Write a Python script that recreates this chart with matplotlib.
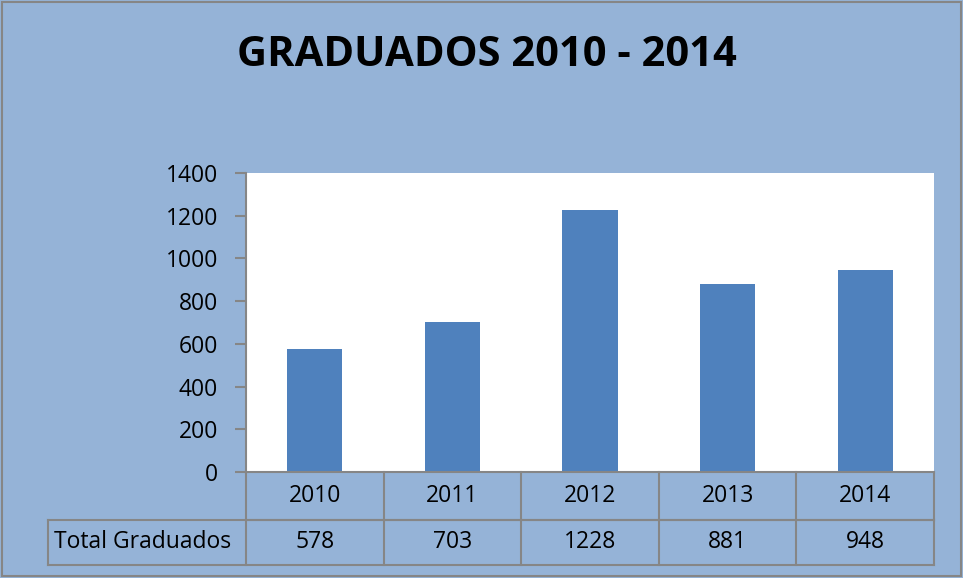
import matplotlib
matplotlib.use("Agg")
import matplotlib.pyplot as plt
from matplotlib.patches import Rectangle
import matplotlib.transforms as mtransforms

years = ["2010", "2011", "2012", "2013", "2014"]
values = [578, 703, 1228, 881, 948]
series_name = "Total Graduados"
yticks = [0, 200, 400, 600, 800, 1000, 1200, 1400]

BG = "#95B3D7"
BAR = "#4F81BD"
GRID = "#868686"
FONT = "Open Sans"
FS = 16.5

fig = plt.figure(figsize=(9.63, 5.78), dpi=100)
fig.patch.set_facecolor(BG)
fig.patches.append(Rectangle((0.002, 0.003), 0.996, 0.994, transform=fig.transFigure,
                             fill=False, edgecolor=GRID, linewidth=1.5))

ax = fig.add_axes([246/963, (578-472)/578, (934-246)/963, (472-173)/578])
ax.set_facecolor("white")
x = list(range(len(years)))
ax.bar(x, values, width=0.4, color=BAR, zorder=2)
ax.set_xlim(-0.5, len(years) - 0.5)
ax.set_ylim(0, 1400)
ax.set_yticks(yticks)
ax.set_yticklabels([str(t) for t in yticks], fontsize=FS, family=FONT)
ax.set_xticks([])
for s in ["top", "right"]:
    ax.spines[s].set_visible(False)
for s in ["left", "bottom"]:
    ax.spines[s].set_color(GRID)
    ax.spines[s].set_linewidth(1.5)
ax.tick_params(axis="y", length=8, width=1.5, color=GRID, pad=12)

# data table
tr = mtransforms.blended_transform_factory(ax.transData, ax.transAxes)
r1 = -48/299
r2 = -93/299
left_lab = (48-246)/688
lw = 1.5
ax.plot([left_lab, 1], [r1, r1], transform=ax.transAxes, color=GRID, lw=lw, clip_on=False)
ax.plot([left_lab, 1], [r2, r2], transform=ax.transAxes, color=GRID, lw=lw, clip_on=False)
ax.plot([0, 1], [r1, r1], transform=ax.transAxes, color=GRID, lw=lw, clip_on=False)
ax.plot([left_lab, left_lab], [r1, r2], transform=ax.transAxes, color=GRID, lw=lw, clip_on=False)
for b in [i - 0.5 for i in range(len(years) + 1)]:
    ax.plot([b, b], [0, r2], transform=tr, color=GRID, lw=lw, clip_on=False)
for i, (yr, v) in enumerate(zip(years, values)):
    ax.text(i, r1/2, yr, transform=tr, ha="center", va="center", fontsize=FS, family=FONT)
    ax.text(i, (r1+r2)/2, str(v), transform=tr, ha="center", va="center", fontsize=FS, family=FONT)
ax.text(left_lab + 0.008, (r1+r2)/2, series_name, transform=ax.transAxes, ha="left",
        va="center", fontsize=FS, family=FONT)

fig.text(487/963, 1 - 55/578, "GRADUADOS 2010 - 2014", ha="center", va="center",
         fontsize=30, fontweight="bold", family=FONT)

fig.savefig("out.png", dpi=100, facecolor=BG)
